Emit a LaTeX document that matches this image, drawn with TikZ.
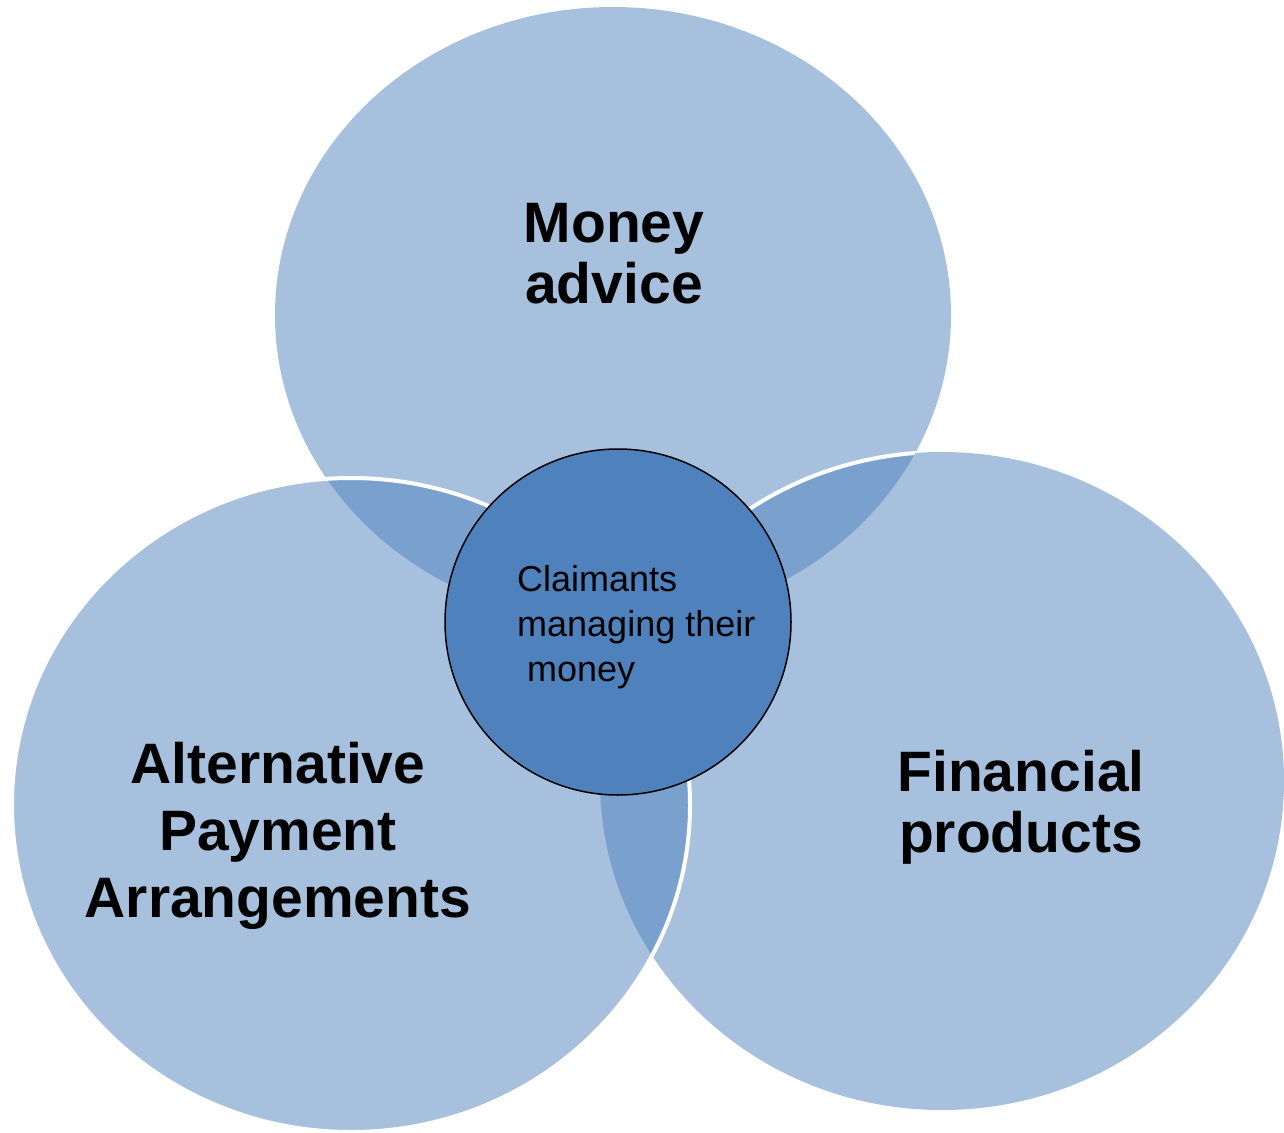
\documentclass[tikz,border=0pt]{standalone}
\usepackage{fontspec}
\setmainfont{Liberation Sans}
\definecolor{vennblue}{HTML}{4F81BD}
\begin{document}
\begin{tikzpicture}[x=1pt,y=-1pt,
  venn/.style={fill=vennblue,fill opacity=0.5},
  rim/.style={draw=white,line width=4pt},
  bigtxt/.style={font=\bfseries\fontsize{57}{61}\selectfont,align=center,anchor=base,inner sep=0pt},
]
\useasboundingbox (0,0) rectangle (1284,1132);

% three translucent sets
\fill[venn] (613,315) ellipse [x radius=338, y radius=308];
\fill[venn] (942,781) ellipse [x radius=342, y radius=329];
\fill[venn] (351,805) ellipse [x radius=339, y radius=327];

% white rims where a set lies over an earlier one
\begin{scope}
  \clip (613,315) ellipse [x radius=338, y radius=308];
  \draw[rim] (942,781) ellipse [x radius=342, y radius=329];
\end{scope}
\draw[rim] (351,805) ellipse [x radius=339, y radius=327];

% labels of the sets (base anchor sits on the last line)
\node[bigtxt] (advice) at (614,303) {Money\\advice};
\node[bigtxt,font=\bfseries\fontsize{57}{67}\selectfont] (apa) at (278,917) {Alternative\\Payment\\Arrangements};
\node[bigtxt] (products) at (1021,852) {Financial\\products};

% central circle
\node[circle,draw=black,line width=1.5pt,fill=vennblue,minimum size=346pt,inner sep=0pt] (hub) at (618,622) {};
\node[anchor=base west,align=left,inner sep=0pt,font=\fontsize{36}{45}\selectfont] (hubtext) at (517,681)
  {Claimants\\managing their\\\hspace*{10pt}money};
\end{tikzpicture}
\end{document}
